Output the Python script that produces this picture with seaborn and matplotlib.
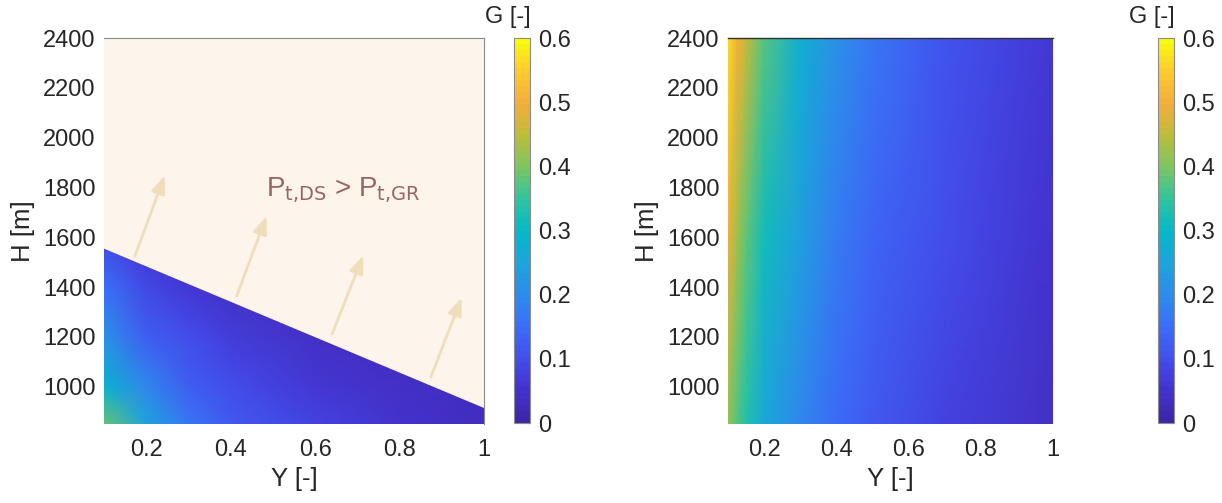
import numpy as np
import matplotlib.pyplot as plt
from matplotlib.colors import ListedColormap, Normalize
import seaborn as sns

# -------------------------------
# DATA
# -------------------------------
# left panel: G over (Y, H), only valid below the P_t,DS = P_t,GR line
y_left = [0.1, 0.2, 0.3, 0.4, 0.6, 0.8, 1.0]
h_left = [850, 1000, 1200, 1400, 1600]
g_left = [
    [0.38, 0.25, 0.16, 0.12, 0.075, 0.05, 0.035],
    [0.29, 0.19, 0.13, 0.095, 0.06, 0.042, 0.03],
    [0.21, 0.13, 0.095, 0.07, 0.045, 0.033, 0.025],
    [0.15, 0.085, 0.06, 0.045, 0.035, 0.028, 0.022],
    [0.09, 0.05, 0.04, 0.035, 0.03, 0.025, 0.02],
]

# boundary P_t,DS = P_t,GR
sep_y = [0.1, 1.0]
sep_h = [1560, 920]

# arrows pointing into the P_t,DS > P_t,GR region
arrow_y0 = [0.173, 0.414, 0.640, 0.874]
arrow_h0 = [1524, 1364, 1211, 1038]
arrow_y1 = [0.244, 0.485, 0.714, 0.947]
arrow_h1 = [1848, 1685, 1527, 1358]

# right panel: G over the full (Y, H) range
y_right = [0.1, 0.125, 0.15, 0.2, 0.3, 0.4, 0.5, 0.7, 1.0]
h_right = [850, 1600, 2400]
g_right = [
    [0.42, 0.37, 0.33, 0.26, 0.195, 0.145, 0.115, 0.075, 0.04],
    [0.49, 0.43, 0.38, 0.31, 0.235, 0.175, 0.14, 0.095, 0.05],
    [0.57, 0.50, 0.45, 0.37, 0.28, 0.21, 0.165, 0.11, 0.065],
]

x_ticks = [0.2, 0.4, 0.6, 0.8, 1.0]
x_ticklabels = ["0.2", "0.4", "0.6", "0.8", "1"]
h_ticks = [1000, 1200, 1400, 1600, 1800, 2000, 2200, 2400]
cb_ticks = [0, 0.1, 0.2, 0.3, 0.4, 0.5, 0.6]
cb_ticklabels = ["0", "0.1", "0.2", "0.3", "0.4", "0.5", "0.6"]

# -------------------------------
# STYLE
# -------------------------------
sns.set_theme(style="white")
plt.rcParams['font.family'] = ['Liberation Sans', 'DejaVu Sans']
plt.rcParams['mathtext.default'] = 'regular'
txt = '#262626'
cream = '#FDF5EB'

# parula-like colormap (64 steps)
parula_anchors = ["#3E26A8", "#4433D0", "#4351ED", "#3B6FF9", "#2D8CEA",
                  "#1CA5DB", "#05B8C8", "#30C39E", "#7DC560", "#BDBD3A",
                  "#F2AD3C", "#FDC82F", "#F9FB0E"]
parula = ListedColormap(sns.blend_palette(parula_anchors, n_colors=64))
norm = Normalize(0, 0.6)

fig = plt.figure(figsize=(12.22, 5.03), dpi=100)
ax1 = fig.add_axes([0.0851, 0.157, 0.311, 0.7674])
cax1 = fig.add_axes([0.4206, 0.159, 0.0131, 0.7654])
ax2 = fig.add_axes([0.5957, 0.157, 0.266, 0.7674])
cax2 = fig.add_axes([0.9476, 0.159, 0.0131, 0.7654])

# -------------------------------
# LEFT PANEL
# -------------------------------
YY, HH = np.meshgrid(y_left, h_left)
m1 = ax1.pcolormesh(YY, HH, np.array(g_left), cmap=parula, norm=norm,
                    shading='gouraud', rasterized=True)
ax1.fill_between(sep_y, sep_h, 2400, facecolor=cream, edgecolor=cream,
                 lw=1.5, zorder=2, clip_on=True)
for a, b, c, d in zip(arrow_y0, arrow_h0, arrow_y1, arrow_h1):
    ax1.annotate("", xy=(c, d), xytext=(a, b), zorder=3,
                 arrowprops=dict(arrowstyle='-|>,head_length=0.9,head_width=0.35',
                                 color='#F0DDBA', lw=2, mutation_scale=12,
                                 shrinkA=0, shrinkB=0))
ax1.text(0.484, 1790, r'$P_{\text{t,DS}}$ > $P_{\text{t,GR}}$', color='#9A6464',
         fontsize=20, va='center', ha='left', zorder=4)

# -------------------------------
# RIGHT PANEL
# -------------------------------
YY2, HH2 = np.meshgrid(y_right, h_right)
m2 = ax2.pcolormesh(YY2, HH2, np.array(g_right), cmap=parula, norm=norm,
                    shading='gouraud', rasterized=True)

for ax in (ax1, ax2):
    ax.set_xlim(0.1, 1.0)
    ax.set_ylim(850, 2400)
    ax.set_xticks(x_ticks)
    ax.set_xticklabels(x_ticklabels)
    ax.set_yticks(h_ticks)
    ax.set_xlabel('Y [-]', fontsize=18.5, color=txt, labelpad=4)
    ax.tick_params(labelsize=17, labelcolor=txt)

ax1.set_ylabel('H [m]', fontsize=18.5, color=txt, labelpad=6)
ax2.set_ylabel('H [m]', fontsize=18.5, color=txt, labelpad=6)

ax1.tick_params(direction='in', left=False, bottom=False, top=True, right=True,
                length=5, width=0.8, color='#7F7F7F')
ax1.tick_params(axis='x', pad=11)
ax1.tick_params(axis='y', pad=6)
for s in ax1.spines.values():
    s.set_color('#8C8C8C')
    s.set_linewidth(0.8)
    s.set_zorder(5)
ax1.spines['left'].set_visible(False)
ax1.spines['bottom'].set_visible(False)

ax2.tick_params(length=0)
ax2.tick_params(axis='x', pad=11)
ax2.tick_params(axis='y', pad=6)
for side in ['left', 'right', 'bottom']:
    ax2.spines[side].set_visible(False)
ax2.spines['top'].set_color('#303030')
ax2.spines['top'].set_linewidth(1.0)

# -------------------------------
# COLORBARS
# -------------------------------
for m, cax in ((m1, cax1), (m2, cax2)):
    cb = fig.colorbar(m, cax=cax, ticks=cb_ticks)
    cb.ax.set_yticklabels(cb_ticklabels)
    cb.ax.tick_params(labelsize=17, labelcolor=txt, direction='in',
                      length=3, width=0.8, color='#7F7F7F', pad=6)
    cb.outline.set_edgecolor('#8C8C8C')
    cb.outline.set_linewidth(0.8)
    cax.text(-0.4, 1.025, 'G [-]', transform=cax.transAxes, ha='center',
             va='bottom', fontsize=17, color=txt)

fig.savefig('out.png', dpi=100)
